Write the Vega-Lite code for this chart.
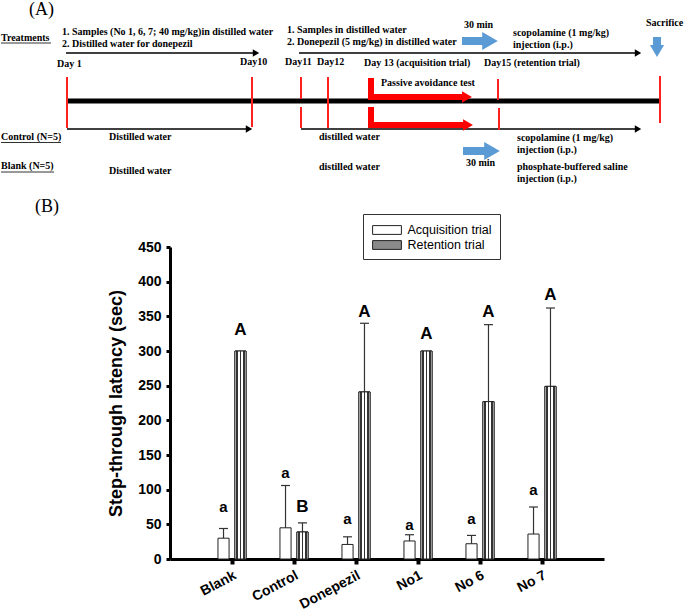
{
  "$schema": "https://vega.github.io/schema/vega-lite/v6.json",
  "padding": 0,
  "background": "white",
  "spacing": 13,
  "config": {"view": {"stroke": null}, "font": "Liberation Sans"},
  "datasets": {
    "diagram": [
      {"kind": "panel", "x": 30, "y": 10, "text": "(A)"},
      {"kind": "label", "x": 2, "y": 38, "text": "Treatments"},
      {"kind": "label", "x": 63, "y": 32, "text": "1. Samples (No 1, 6, 7; 40 mg/kg)in distilled water"},
      {"kind": "label", "x": 63, "y": 44, "text": "2. Distilled water for donepezil"},
      {"kind": "label", "x": 288, "y": 30, "text": "1. Samples in distilled water"},
      {"kind": "label", "x": 288, "y": 42, "text": "2. Donepezil  (5 mg/kg) in distilled water"},
      {"kind": "label", "x": 465, "y": 25, "text": "30 min"},
      {"kind": "label", "x": 514, "y": 33, "text": "scopolamine (1 mg/kg)"},
      {"kind": "label", "x": 514, "y": 45, "text": "injection (i.p.)"},
      {"kind": "label", "x": 647, "y": 23, "text": "Sacrifice"},
      {"kind": "label", "x": 58, "y": 64, "text": "Day 1"},
      {"kind": "label", "x": 241, "y": 62, "text": "Day10"},
      {"kind": "label", "x": 286, "y": 62, "text": "Day11"},
      {"kind": "label", "x": 318, "y": 62, "text": "Day12"},
      {"kind": "label", "x": 365, "y": 63, "text": "Day 13 (acquisition trial)"},
      {"kind": "label", "x": 485, "y": 63, "text": "Day15 (retention trial)"},
      {"kind": "label", "x": 382, "y": 83, "text": "Passive avoidance test"},
      {"kind": "label", "x": 2, "y": 137, "text": "Control (N=5)"},
      {"kind": "label", "x": 110, "y": 137, "text": "Distilled water"},
      {"kind": "label", "x": 320, "y": 137, "text": "distilled water"},
      {"kind": "label", "x": 518, "y": 138, "text": "scopolamine (1 mg/kg)"},
      {"kind": "label", "x": 518, "y": 150, "text": "injection (i.p.)"},
      {"kind": "label", "x": 467, "y": 163, "text": "30 min"},
      {"kind": "label", "x": 2, "y": 166, "text": "Blank (N=5)"},
      {"kind": "label", "x": 110, "y": 171, "text": "Distilled water"},
      {"kind": "label", "x": 320, "y": 167, "text": "distilled water"},
      {"kind": "label", "x": 518, "y": 167, "text": "phosphate-buffered saline"},
      {"kind": "label", "x": 518, "y": 179, "text": "injection (i.p.)"},
      {"kind": "underline", "x": 2, "y": 43, "x2": 52, "y2": 43},
      {"kind": "underline", "x": 2, "y": 142.5, "x2": 62, "y2": 142.5},
      {"kind": "underline", "x": 2, "y": 172, "x2": 55, "y2": 172},
      {"kind": "arrow", "x": 67, "y": 53, "x2": 255, "y2": 53},
      {"kind": "arrow", "x": 300, "y": 53, "x2": 637, "y2": 53},
      {"kind": "arrow", "x": 68, "y": 129, "x2": 248, "y2": 129},
      {"kind": "arrow", "x": 302, "y": 129, "x2": 637, "y2": 129},
      {"kind": "head", "x": 257, "y": 53},
      {"kind": "head", "x": 639, "y": 53},
      {"kind": "head", "x": 250, "y": 129},
      {"kind": "head", "x": 639, "y": 129},
      {"kind": "thick", "x": 67, "y": 101, "x2": 660, "y2": 101},
      {"kind": "red", "x": 68, "y": 77, "x2": 68, "y2": 128},
      {"kind": "red", "x": 253, "y": 77, "x2": 253, "y2": 127},
      {"kind": "red", "x": 302, "y": 77, "x2": 302, "y2": 99},
      {"kind": "red", "x": 302, "y": 107, "x2": 302, "y2": 128},
      {"kind": "red", "x": 329, "y": 77, "x2": 329, "y2": 128},
      {"kind": "red", "x": 499, "y": 79, "x2": 499, "y2": 100},
      {"kind": "red", "x": 500, "y": 108, "x2": 500, "y2": 130},
      {"kind": "red", "x": 661, "y": 76, "x2": 661, "y2": 123},
      {"kind": "redthick", "x": 372, "y": 78, "x2": 372, "y2": 100},
      {"kind": "redthick", "x": 369, "y": 97, "x2": 465, "y2": 97},
      {"kind": "redthick", "x": 372, "y": 107, "x2": 372, "y2": 128},
      {"kind": "redthick", "x": 369, "y": 125, "x2": 466, "y2": 125},
      {"kind": "redhead", "x": 468, "y": 97},
      {"kind": "redhead", "x": 469, "y": 125},
      {"kind": "blue", "x": 463, "y": 41, "x2": 485, "y2": 41},
      {"kind": "blue", "x": 464, "y": 151, "x2": 487, "y2": 151},
      {"kind": "blue", "x": 658, "y": 37, "x2": 658, "y2": 48},
      {"kind": "bluehead", "x": 491, "y": 41},
      {"kind": "bluehead", "x": 493, "y": 151},
      {"kind": "bluedown", "x": 658, "y": 51}
    ],
    "latency": [
      {"group": "Blank", "trial": "Acquisition trial", "mean": 30, "upper": 44, "letter": "a", "labelY": 75},
      {"group": "Blank", "trial": "Retention trial", "mean": 300, "upper": null, "letter": "A", "labelY": 331},
      {"group": "Control", "trial": "Acquisition trial", "mean": 45, "upper": 106, "letter": "a", "labelY": 124},
      {"group": "Control", "trial": "Retention trial", "mean": 39, "upper": 52, "letter": "B", "labelY": 75},
      {"group": "Donepezil", "trial": "Acquisition trial", "mean": 21, "upper": 32, "letter": "a", "labelY": 57},
      {"group": "Donepezil", "trial": "Retention trial", "mean": 241, "upper": 340, "letter": "A", "labelY": 356},
      {"group": "No1", "trial": "Acquisition trial", "mean": 26, "upper": 35, "letter": "a", "labelY": 49},
      {"group": "No1", "trial": "Retention trial", "mean": 300, "upper": null, "letter": "A", "labelY": 324},
      {"group": "No 6", "trial": "Acquisition trial", "mean": 22, "upper": 34, "letter": "a", "labelY": 57},
      {"group": "No 6", "trial": "Retention trial", "mean": 227, "upper": 338, "letter": "A", "labelY": 356},
      {"group": "No 7", "trial": "Acquisition trial", "mean": 36, "upper": 75, "letter": "a", "labelY": 99},
      {"group": "No 7", "trial": "Retention trial", "mean": 249, "upper": 362, "letter": "A", "labelY": 381}
    ]
  },
  "vconcat": [
    {
      "width": 434,
      "height": 185,
      "data": {"name": "diagram"},
      "encoding": {
        "x": {"field": "x", "type": "quantitative", "scale": {"domain": [171, 605], "nice": false, "zero": false}, "axis": null},
        "y": {"field": "y", "type": "quantitative", "scale": {"domain": [0, 185], "reverse": true, "nice": false, "zero": false}, "axis": null}
      },
      "layer": [
        {"transform": [{"filter": "datum.kind === 'thick'"}], "mark": {"type": "rule", "color": "black", "strokeWidth": 5}, "encoding": {"x2": {"field": "x2"}, "y2": {"field": "y2"}}},
        {"transform": [{"filter": "datum.kind === 'arrow'"}], "mark": {"type": "rule", "color": "black", "strokeWidth": 1.6}, "encoding": {"x2": {"field": "x2"}, "y2": {"field": "y2"}}},
        {"transform": [{"filter": "datum.kind === 'underline'"}], "mark": {"type": "rule", "color": "#333", "strokeWidth": 1}, "encoding": {"x2": {"field": "x2"}, "y2": {"field": "y2"}}},
        {"transform": [{"filter": "datum.kind === 'red'"}], "mark": {"type": "rule", "color": "#ff2020", "strokeWidth": 2}, "encoding": {"x2": {"field": "x2"}, "y2": {"field": "y2"}}},
        {"transform": [{"filter": "datum.kind === 'redthick'"}], "mark": {"type": "rule", "color": "#ff0000", "strokeWidth": 6}, "encoding": {"x2": {"field": "x2"}, "y2": {"field": "y2"}}},
        {"transform": [{"filter": "datum.kind === 'blue'"}], "mark": {"type": "rule", "color": "#5b9bd5", "strokeWidth": 8}, "encoding": {"x2": {"field": "x2"}, "y2": {"field": "y2"}}},
        {"transform": [{"filter": "datum.kind === 'head'"}], "mark": {"type": "point", "shape": "triangle-right", "filled": true, "color": "black", "size": 55, "opacity": 1}, "encoding": {}},
        {"transform": [{"filter": "datum.kind === 'redhead'"}], "mark": {"type": "point", "shape": "triangle-right", "filled": true, "color": "#ff0000", "size": 130, "opacity": 1}, "encoding": {}},
        {"transform": [{"filter": "datum.kind === 'bluehead'"}], "mark": {"type": "point", "shape": "triangle-right", "filled": true, "color": "#5b9bd5", "size": 324, "opacity": 1}, "encoding": {}},
        {"transform": [{"filter": "datum.kind === 'bluedown'"}], "mark": {"type": "point", "shape": "triangle-down", "filled": true, "color": "#5b9bd5", "size": 200, "opacity": 1}, "encoding": {}},
        {"transform": [{"filter": "datum.kind === 'label'"}], "mark": {"type": "text", "align": "left", "baseline": "middle", "font": "Liberation Serif", "fontWeight": "bold", "fontSize": 10, "color": "black"}, "encoding": {"text": {"field": "text"}}},
        {"transform": [{"filter": "datum.kind === 'panel'"}], "mark": {"type": "text", "align": "left", "baseline": "middle", "font": "Liberation Serif", "fontSize": 18, "color": "black"}, "encoding": {"text": {"field": "text"}}}
      ]
    },
    {
      "width": 434,
      "height": 312,
      "title": {"text": "(B)", "anchor": "start", "frame": "group", "dx": -135, "offset": 24, "font": "Liberation Serif", "fontSize": 18, "fontWeight": "normal", "color": "black"},
      "data": {"name": "latency"},
      "encoding": {
        "x": {
          "field": "group", "type": "nominal", "sort": null,
          "scale": {"paddingInner": 0, "paddingOuter": 0.5},
          "axis": {"title": null, "labelAngle": -28, "labelAlign": "right", "labelBaseline": "top", "labelFontSize": 14, "labelFontWeight": "bold", "labelColor": "black", "labelPadding": 4, "domainColor": "black", "domainWidth": 3, "tickColor": "black", "tickWidth": 4, "tickSize": 5}
        },
        "xOffset": {"field": "trial", "type": "nominal", "sort": ["Acquisition trial", "Retention trial"], "scale": {"paddingInner": 0.345, "paddingOuter": 1.31}},
        "y": {
          "field": "mean", "type": "quantitative",
          "scale": {"domain": [0, 450], "nice": false},
          "axis": {"title": "Step-through latency (sec)", "titleFontSize": 18, "titleFontWeight": "bold", "titleColor": "black", "titlePadding": 12, "labelFontSize": 14, "labelFontWeight": "bold", "labelColor": "black", "labelPadding": 5, "values": [0, 50, 100, 150, 200, 250, 300, 350, 400, 450], "grid": false, "domainColor": "black", "domainWidth": 3, "tickColor": "black", "tickWidth": 3, "tickSize": 4}
        }
      },
      "layer": [
        {"mark": {"type": "rule", "color": "#333", "strokeWidth": 1.2}, "encoding": {"y": {"field": "upper", "type": "quantitative"}, "y2": {"field": "mean"}}},
        {"mark": {"type": "tick", "color": "#333", "thickness": 1.2, "size": 9, "opacity": 1}, "encoding": {"y": {"field": "upper", "type": "quantitative"}}},
        {
          "mark": {"type": "bar", "stroke": "#222", "strokeWidth": 1},
          "encoding": {
            "fill": {
              "field": "trial", "type": "nominal",
              "scale": {"domain": ["Acquisition trial", "Retention trial"], "range": ["white", "#8a8a8a"]},
              "legend": {"title": null, "orient": "none", "legendX": 193, "legendY": 214, "direction": "vertical", "symbolType": "M-0.8,-0.55H2.8V0.55H-0.8Z", "symbolSize": 256, "symbolStrokeColor": "#222", "symbolStrokeWidth": 1, "labelFontSize": 12.5, "labelColor": "black", "labelOffset": 20, "padding": 7.5, "rowPadding": 0, "strokeColor": "#333", "fillColor": "white",
                "encode": {"symbols": {"update": {
                  "stroke": {"value": "#222"},
                  "strokeWidth": {"value": 1},
                  "fill": [
                  {"test": "datum.value === 'Retention trial'", "value": {"gradient": "linear", "x1": 0, "y1": 0, "x2": 1, "y2": 0, "stops": [
                    {"offset": 0, "color": "white"}, {"offset": 0.06, "color": "white"}, {"offset": 0.06, "color": "#333"}, {"offset": 0.11, "color": "#333"},
                    {"offset": 0.11, "color": "white"}, {"offset": 0.2, "color": "white"}, {"offset": 0.2, "color": "#333"}, {"offset": 0.25, "color": "#333"},
                    {"offset": 0.25, "color": "white"}, {"offset": 0.34, "color": "white"}, {"offset": 0.34, "color": "#333"}, {"offset": 0.39, "color": "#333"},
                    {"offset": 0.39, "color": "white"}, {"offset": 0.48, "color": "white"}, {"offset": 0.48, "color": "#333"}, {"offset": 0.53, "color": "#333"},
                    {"offset": 0.53, "color": "white"}, {"offset": 0.62, "color": "white"}, {"offset": 0.62, "color": "#333"}, {"offset": 0.67, "color": "#333"},
                    {"offset": 0.67, "color": "white"}, {"offset": 0.76, "color": "white"}, {"offset": 0.76, "color": "#333"}, {"offset": 0.81, "color": "#333"},
                    {"offset": 0.81, "color": "white"}, {"offset": 0.9, "color": "white"}, {"offset": 0.9, "color": "#333"}, {"offset": 0.95, "color": "#333"},
                    {"offset": 0.95, "color": "white"}, {"offset": 1, "color": "white"}
                  ]}},
                  {"value": "white"}
                ]}}}
              }
            }
          }
        },
        {
          "transform": [{"filter": "datum.trial === 'Retention trial'"}],
          "mark": {"type": "bar", "stroke": "#222", "strokeWidth": 1,
            "fill": {"gradient": "linear", "x1": 0, "y1": 0, "x2": 1, "y2": 0, "stops": [
              {"offset": 0, "color": "white"}, {"offset": 0.1, "color": "white"},
              {"offset": 0.1, "color": "#333"}, {"offset": 0.27, "color": "#333"},
              {"offset": 0.27, "color": "white"}, {"offset": 0.42, "color": "white"},
              {"offset": 0.42, "color": "#333"}, {"offset": 0.59, "color": "#333"},
              {"offset": 0.59, "color": "white"}, {"offset": 0.74, "color": "white"},
              {"offset": 0.74, "color": "#333"}, {"offset": 0.91, "color": "#333"},
              {"offset": 0.91, "color": "white"}, {"offset": 1, "color": "white"}
            ]}
          }
        },
        {"transform": [{"filter": "datum.trial === 'Acquisition trial'"}], "mark": {"type": "text", "fontWeight": "bold", "fontSize": 15, "baseline": "middle", "color": "black"}, "encoding": {"y": {"field": "labelY", "type": "quantitative"}, "text": {"field": "letter"}}},
        {"transform": [{"filter": "datum.trial === 'Retention trial'"}], "mark": {"type": "text", "fontWeight": "bold", "fontSize": 17, "baseline": "middle", "color": "black"}, "encoding": {"y": {"field": "labelY", "type": "quantitative"}, "text": {"field": "letter"}}}
      ]
    }
  ]
}
